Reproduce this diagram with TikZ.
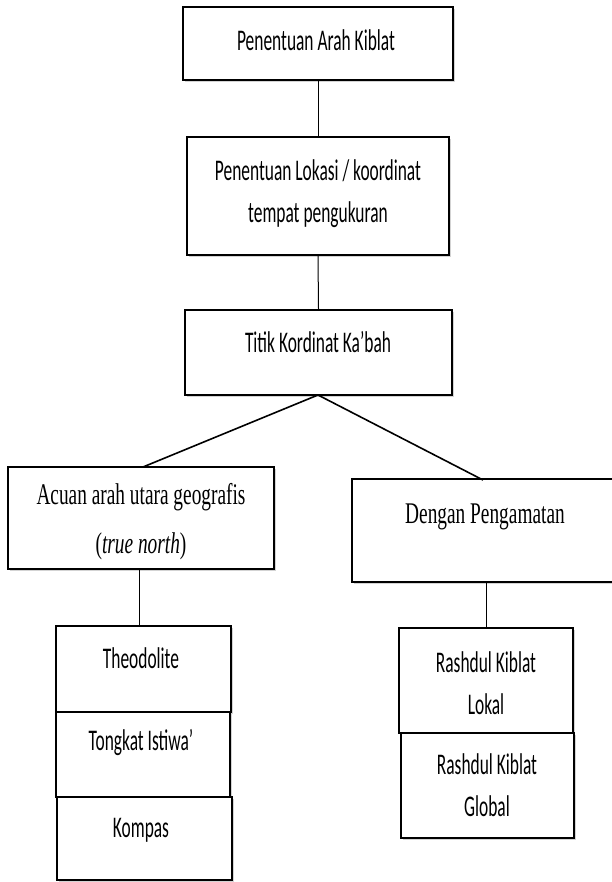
\documentclass[tikz,border=0pt]{standalone}
\usepackage{fontspec}
\newfontfamily\calfont[FakeStretch=0.58]{Carlito}
\newfontfamily\tmsfont[FakeStretch=0.645]{Liberation Serif}
\usetikzlibrary{shadows}
\tikzset{
  box/.style={draw=black, line width=1.8pt, fill=white, inner sep=0pt,
    drop shadow={shadow xshift=1.5pt, shadow yshift=-2pt, opacity=0.35, fill=gray}},
  lbl/.style={font=\calfont\fontsize{30}{42}\selectfont, align=center, inner sep=0pt},
  slbl/.style={font=\tmsfont\fontsize{30}{49}\selectfont, align=center, inner sep=0pt},
  conn/.style={line width=1pt},
  diag/.style={line width=1.6pt}
}
\begin{document}
\begin{tikzpicture}[x=1pt,y=1pt]
\useasboundingbox (0,0) rectangle (612,-882);
% boxes
\node[box, minimum width=270pt, minimum height=73pt] (b1) at (318,-43.5) {};
\node[box, minimum width=262pt, minimum height=118pt] (b2) at (318,-196) {};
\node[box, minimum width=267pt, minimum height=85pt] (b3) at (318.5,-352.5) {};
\node[box, minimum width=266pt, minimum height=102pt] (bL) at (141,-518) {};
\node[box, minimum width=266pt, minimum height=103pt] (bR) at (485,-530.5) {};
\node[box, minimum width=175pt, minimum height=86pt] (t1) at (143.5,-669) {};
\node[box, minimum width=174pt, minimum height=85pt] (t2) at (143,-754.5) {};
\node[box, minimum width=175pt, minimum height=83pt] (t3) at (144.5,-838.5) {};
\node[box, minimum width=174pt, minimum height=105pt] (r1) at (486,-680.5) {};
\node[box, minimum width=173pt, minimum height=105pt] (r2) at (487.5,-785.5) {};
% texts
\node[lbl] (x1) at (316,-40) {Penentuan Arah Kiblat};
\node[lbl] (x2) at (318,-194) {Penentuan Lokasi / koordinat\\tempat pengukuran};
\node[lbl] (x3) at (318,-342) {Titik Kordinat Ka’bah};
\node[slbl] (xL) at (141,-522) {Acuan arah utara geografis\\(\textit{true north})};
\node[slbl] (xR) at (485,-517) {Dengan Pengamatan};
\node[lbl] (y1) at (141,-658) {Theodolite};
\node[lbl] (y2) at (141,-742) {Tongkat Istiwa’};
\node[lbl] (y3) at (141,-830) {Kompas};
\node[lbl] (z1) at (486,-683) {Rashdul Kiblat\\Lokal};
\node[lbl] (z2) at (487,-785) {Rashdul Kiblat\\Global};
% connectors
\coordinate (apex) at (318,-395);
\coordinate (aL) at (143,-467);
\coordinate (aR) at (483,-480);
\coordinate (cL) at (139,-569);
\coordinate (cR) at (486,-582);
\draw[conn] (b1.south) -- (b2.north);
\draw[conn] (b2.south) -- (b3.north);
\draw[diag] (apex) -- (aL);
\draw[diag] (apex) -- (aR);
\draw[conn] (cL) -- (cL |- t1.north);
\draw[conn] (cR) -- (r1.north);
\end{tikzpicture}
\end{document}
